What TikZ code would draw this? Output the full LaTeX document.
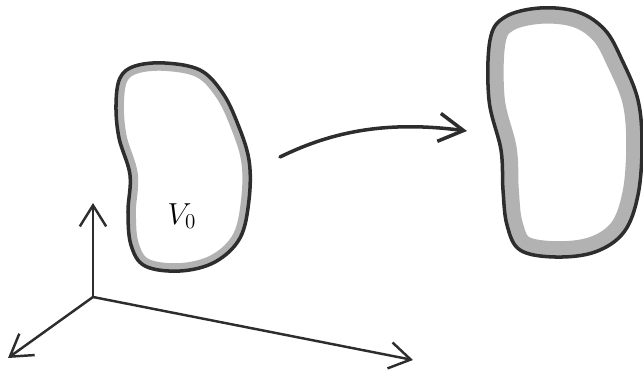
\documentclass[tikz,border=0pt]{standalone}
\usetikzlibrary{arrows.meta}
\definecolor{cink}{RGB}{45,45,45}
\definecolor{cband}{RGB}{178,178,178}
\begin{document}
\begin{tikzpicture}[x=0.02cm,y=-0.02cm,
        rim/.style={draw=cink,line width=2pt,line join=round},
        axis/.style={draw=cink,line width=1.4pt,-{Straight Barb[length=12pt,width=15pt,line width=1.4pt]}},
        flow/.style={draw=cink,line width=2pt,line cap=round,-{Straight Barb[length=14pt,width=16pt,line width=2pt]}}]
      \useasboundingbox (0,0) rectangle (643,372);
      % left body
      \def\blobA{plot[smooth cycle,tension=0.6] coordinates {(120,78) (135,66) (165,63) (200,70) (222,92) (237,122) (249,160) (249,200) (240,238) (215,262) (180,271) (145,266) (131,245) (128,212) (130,175) (119,138) (116,105)}}
      \begin{scope}
        \clip \blobA;
        \draw[cband,line width=9pt] \blobA;
      \end{scope}
      \draw[rim] \blobA;
      \node[font=\LARGE] (v0lab) at (182,216) {$V_0$};
      % right body
      \def\blobB{plot[smooth cycle,tension=0.6] coordinates {(490,40) (505,17) (540,8) (578,12) (605,30) (622,60) (638,100) (642,145) (638,195) (624,232) (595,252) (555,257) (520,250) (507,225) (503,190) (501,150) (489,100)}}
      \begin{scope}
        \clip \blobB;
        \draw[cband,line width=18pt] \blobB;
      \end{scope}
      \draw[rim] \blobB;
      % mapping arrow
      \coordinate (src) at (280,157);
      \coordinate (dst) at (467,131);
      \draw[flow] (src) .. controls (335,130) and (390,121) .. (dst);
      % axes
      \coordinate (o) at (93,297);
      \coordinate (ax-up) at (93,203);
      \coordinate (ax-left) at (8,358);
      \coordinate (ax-right) at (413,360);
      \foreach \t in {ax-up,ax-left,ax-right}
        \draw[axis] (o) -- (\t);
    \end{tikzpicture}
\end{document}
